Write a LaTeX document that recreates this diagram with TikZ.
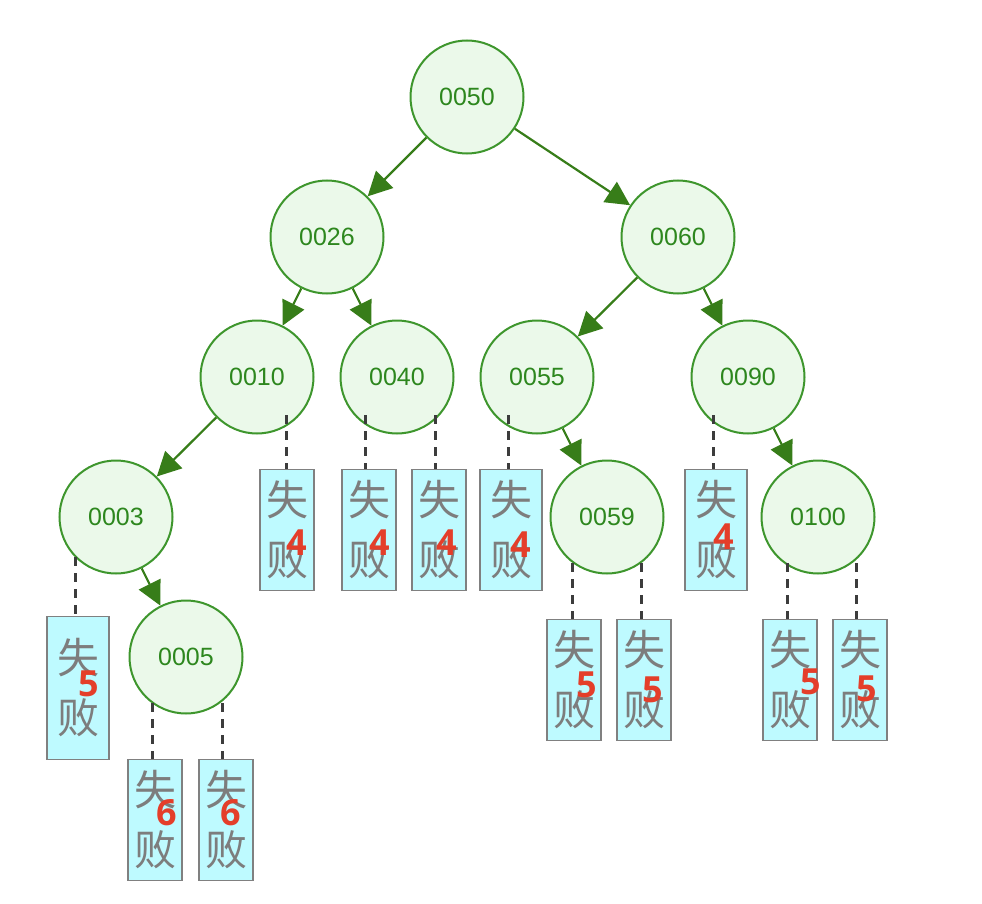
\documentclass[tikz,border=0pt]{standalone}
\usepackage{fontspec}
\setmainfont{Liberation Sans}
\newfontfamily\cjkfont{Noto Sans CJK SC}
\newfontfamily\numfont{Open Sans}[UprightFont=* Bold]
\usetikzlibrary{arrows.meta,calc}
\definecolor{cfill}{RGB}{235,249,234}
\definecolor{cdraw}{RGB}{62,150,45}
\definecolor{ctext}{RGB}{45,135,30}
\definecolor{carrow}{RGB}{55,125,25}
\definecolor{bfill}{RGB}{190,250,255}
\definecolor{bdraw}{RGB}{128,128,128}
\definecolor{btext}{RGB}{125,125,125}
\definecolor{cred}{RGB}{228,62,42}
\definecolor{cdash}{RGB}{60,60,60}
\tikzset{
  keynode/.style={circle, draw=cdraw, fill=cfill, line width=2pt, minimum size=113pt, inner sep=0pt,
    text=ctext, font=\fontsize{25}{25}\selectfont},
  arr/.style={draw=carrow, line width=2.2pt, -{Triangle[length=24pt,width=24pt]}},
  failbox/.style={rectangle, draw=bdraw, fill=bfill, line width=1.8pt, inner sep=0pt,
    minimum width=54pt, minimum height=121pt, text=btext, align=center,
    font=\cjkfont\fontsize{42}{60}\selectfont},
  failnum/.style={text=cred, font=\numfont\fontsize{36}{36}\selectfont, inner sep=0pt},
  failline/.style={draw=cdash, line width=3pt, dash pattern=on 9pt off 7pt},
}
\begin{document}
\begin{tikzpicture}[x=1pt,y=-1pt]
\useasboundingbox (0,0) rectangle (982,904);
% nodes
\node[keynode] (n0050) at (467,97) {0050};
\node[keynode] (n0026) at (327,237) {0026};
\node[keynode] (n0060) at (678,237) {0060};
\node[keynode] (n0010) at (257,377) {0010};
\node[keynode] (n0040) at (397,377) {0040};
\node[keynode] (n0055) at (537,377) {0055};
\node[keynode] (n0090) at (748,377) {0090};
\node[keynode] (n0003) at (116,517) {0003};
\node[keynode] (n0059) at (607,517) {0059};
\node[keynode] (n0100) at (818,517) {0100};
\node[keynode] (n0005) at (186,657) {0005};
% arrows
\draw[arr] (n0050) -- (n0026);
\draw[arr] (n0050) -- (n0060);
\draw[arr] (n0026) -- (n0010);
\draw[arr] (n0026) -- (n0040);
\draw[arr] (n0060) -- (n0055);
\draw[arr] (n0060) -- (n0090);
\draw[arr] (n0010) -- (n0003);
\draw[arr] (n0055) -- (n0059);
\draw[arr] (n0090) -- (n0100);
\draw[arr] (n0003) -- (n0005);
% failure boxes
\node[failbox] (f1) at (287,530) {失\\败};
\node[failbox] (f2) at (369,530) {失\\败};
\node[failbox] (f3) at (439,530) {失\\败};
\node[failbox, minimum width=62pt] (f4) at (511,530) {失\\败};
\node[failbox, minimum width=62pt] (f5) at (716,530) {失\\败};
\node[failbox, minimum width=62pt, minimum height=143pt] (f6) at (78,688) {失\\败};
\node[failbox] (f7) at (155,820) {失\\败};
\node[failbox] (f8) at (226,820) {失\\败};
\node[failbox] (f9) at (574,680) {失\\败};
\node[failbox] (f10) at (644,680) {失\\败};
\node[failbox] (f11) at (790,680) {失\\败};
\node[failbox] (f12) at (860,680) {失\\败};
% dashed links
\coordinate (d1) at ($(n0010)+(29,38)$);
\coordinate (d2) at ($(n0040)+(-32,38)$);
\coordinate (d3) at ($(n0040)+(38,38)$);
\coordinate (d4) at ($(n0055)+(-29,38)$);
\coordinate (d5) at ($(n0090)+(-35,38)$);
\coordinate (d6) at ($(n0003)+(-41,40)$);
\coordinate (d7) at ($(n0005)+(-34,46)$);
\coordinate (d8) at ($(n0005)+(36,46)$);
\coordinate (d9) at ($(n0059)+(-35,46)$);
\coordinate (d10) at ($(n0059)+(34,46)$);
\coordinate (d11) at ($(n0100)+(-31,46)$);
\coordinate (d12) at ($(n0100)+(38,46)$);
\foreach \i in {1,...,12} {
  \draw[failline] (d\i) -- (d\i |- f\i.north);
}
% numbers
\node[failnum] (m1) at (297,543) {4};
\node[failnum] (m2) at (380,543) {4};
\node[failnum] (m3) at (447,543) {4};
\node[failnum] (m4) at (521,545) {4};
\node[failnum] (m5) at (724,537) {4};
\node[failnum] (m6) at (89,684) {5};
\node[failnum] (m7) at (167,813) {6};
\node[failnum] (m8) at (231,813) {6};
\node[failnum] (m9) at (587,685) {5};
\node[failnum] (m10) at (653,690) {5};
\node[failnum] (m11) at (811,682) {5};
\node[failnum] (m12) at (867,689) {5};
\end{tikzpicture}
\end{document}
